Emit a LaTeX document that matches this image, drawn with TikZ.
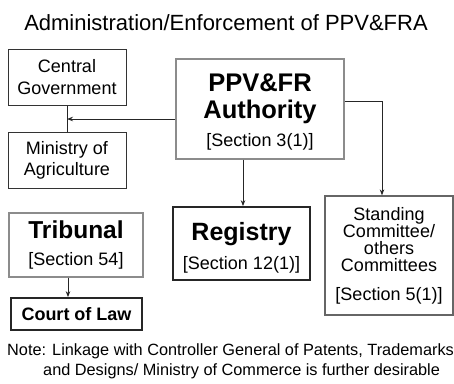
\documentclass[tikz,border=0pt]{standalone}
\usepackage{fontspec}
\setmainfont{Liberation Sans}
\usetikzlibrary{arrows.meta}
\begin{document}
\begin{tikzpicture}[x=1pt,y=-1pt,
  box/.style={rectangle, align=center, inner sep=0pt, text=black},
  darkbox/.style={box, draw=black!80, line width=1pt},
  graybox/.style={box, draw=black!45, line width=1.1pt},
  midbox/.style={box, draw=black!60, line width=1.3pt},
  thickbox/.style={box, draw=black!85, line width=1.7pt},
  conn/.style={draw=black!85, line width=0.9pt},
  arr/.style={conn, -{Stealth[length=6pt,width=4.5pt]}}]
\useasboundingbox (0,0) rectangle (454,383);
\fill[white] (0,0) rectangle (454,383);

\node[inner sep=0pt, font=\fontsize{22}{26}\selectfont] (title) at (226,22.5) {Administration/Enforcement of PPV\&FRA};

\node[darkbox, minimum width=118, minimum height=56, font=\fontsize{18}{22}\selectfont] (cg) at (67,77) {Central\\Government};
\node[darkbox, minimum width=118, minimum height=56, font=\fontsize{18}{21}\selectfont] (ma) at (67,160) {Ministry of\\Agriculture};

\node[graybox, minimum width=168, minimum height=100, font=\fontsize{18}{27}\selectfont] (auth) at (260,109)
  {\rule{0pt}{23.6pt}\fontsize{25.5}{27}\selectfont\bfseries PPV\&FR\\\fontsize{25.5}{27}\selectfont\bfseries Authority\\[0.5pt]{[}Section 3(1){]}};

\node[thickbox, minimum width=137, minimum height=73, font=\fontsize{18}{28.5}\selectfont] (reg) at (241.5,243.5)
  {\rule{0pt}{26.3pt}\fontsize{25}{28.5}\selectfont\bfseries Registry\\{[}Section 12(1){]}};

\node[graybox, minimum width=134, minimum height=64, font=\fontsize{18}{27.5}\selectfont] (trib) at (76,245)
  {\fontsize{24.5}{27.5}\selectfont\bfseries Tribunal\\{[}Section 54{]}};

\node[thickbox, minimum width=131, minimum height=32, font=\fontsize{18}{22}\selectfont\bfseries] (court) at (76.5,314) {Court of Law};

\node[midbox, minimum width=128, minimum height=119, font=\fontsize{18}{17}\selectfont] (stand) at (389,255.5)
  {Standing\\Committee/\\others\\Committees\\[12pt]{[}Section 5(1){]}};

\node[inner sep=0pt, anchor=north west, align=left, font=\fontsize{16.3}{20}\selectfont] (note) at (7,343)
  {Note: Linkage with Controller General of Patents, Trademarks\\\hspace*{36pt}and Designs/ Ministry of Commerce is further desirable};

% connectors
\coordinate (j) at (67,119);
\draw[conn] (cg.south) -- (ma.north);
\draw[arr] (auth.west |- j) -- (j);
\draw[arr] (auth.south -| 243,0) -- (reg.north -| 243,0);
\coordinate (sr) at (382,101);
\draw[arr] (auth.east |- sr) -| (stand.north -| sr);
\draw[arr] (trib.south -| 68,0) -- (court.north -| 68,0);
\end{tikzpicture}
\end{document}
